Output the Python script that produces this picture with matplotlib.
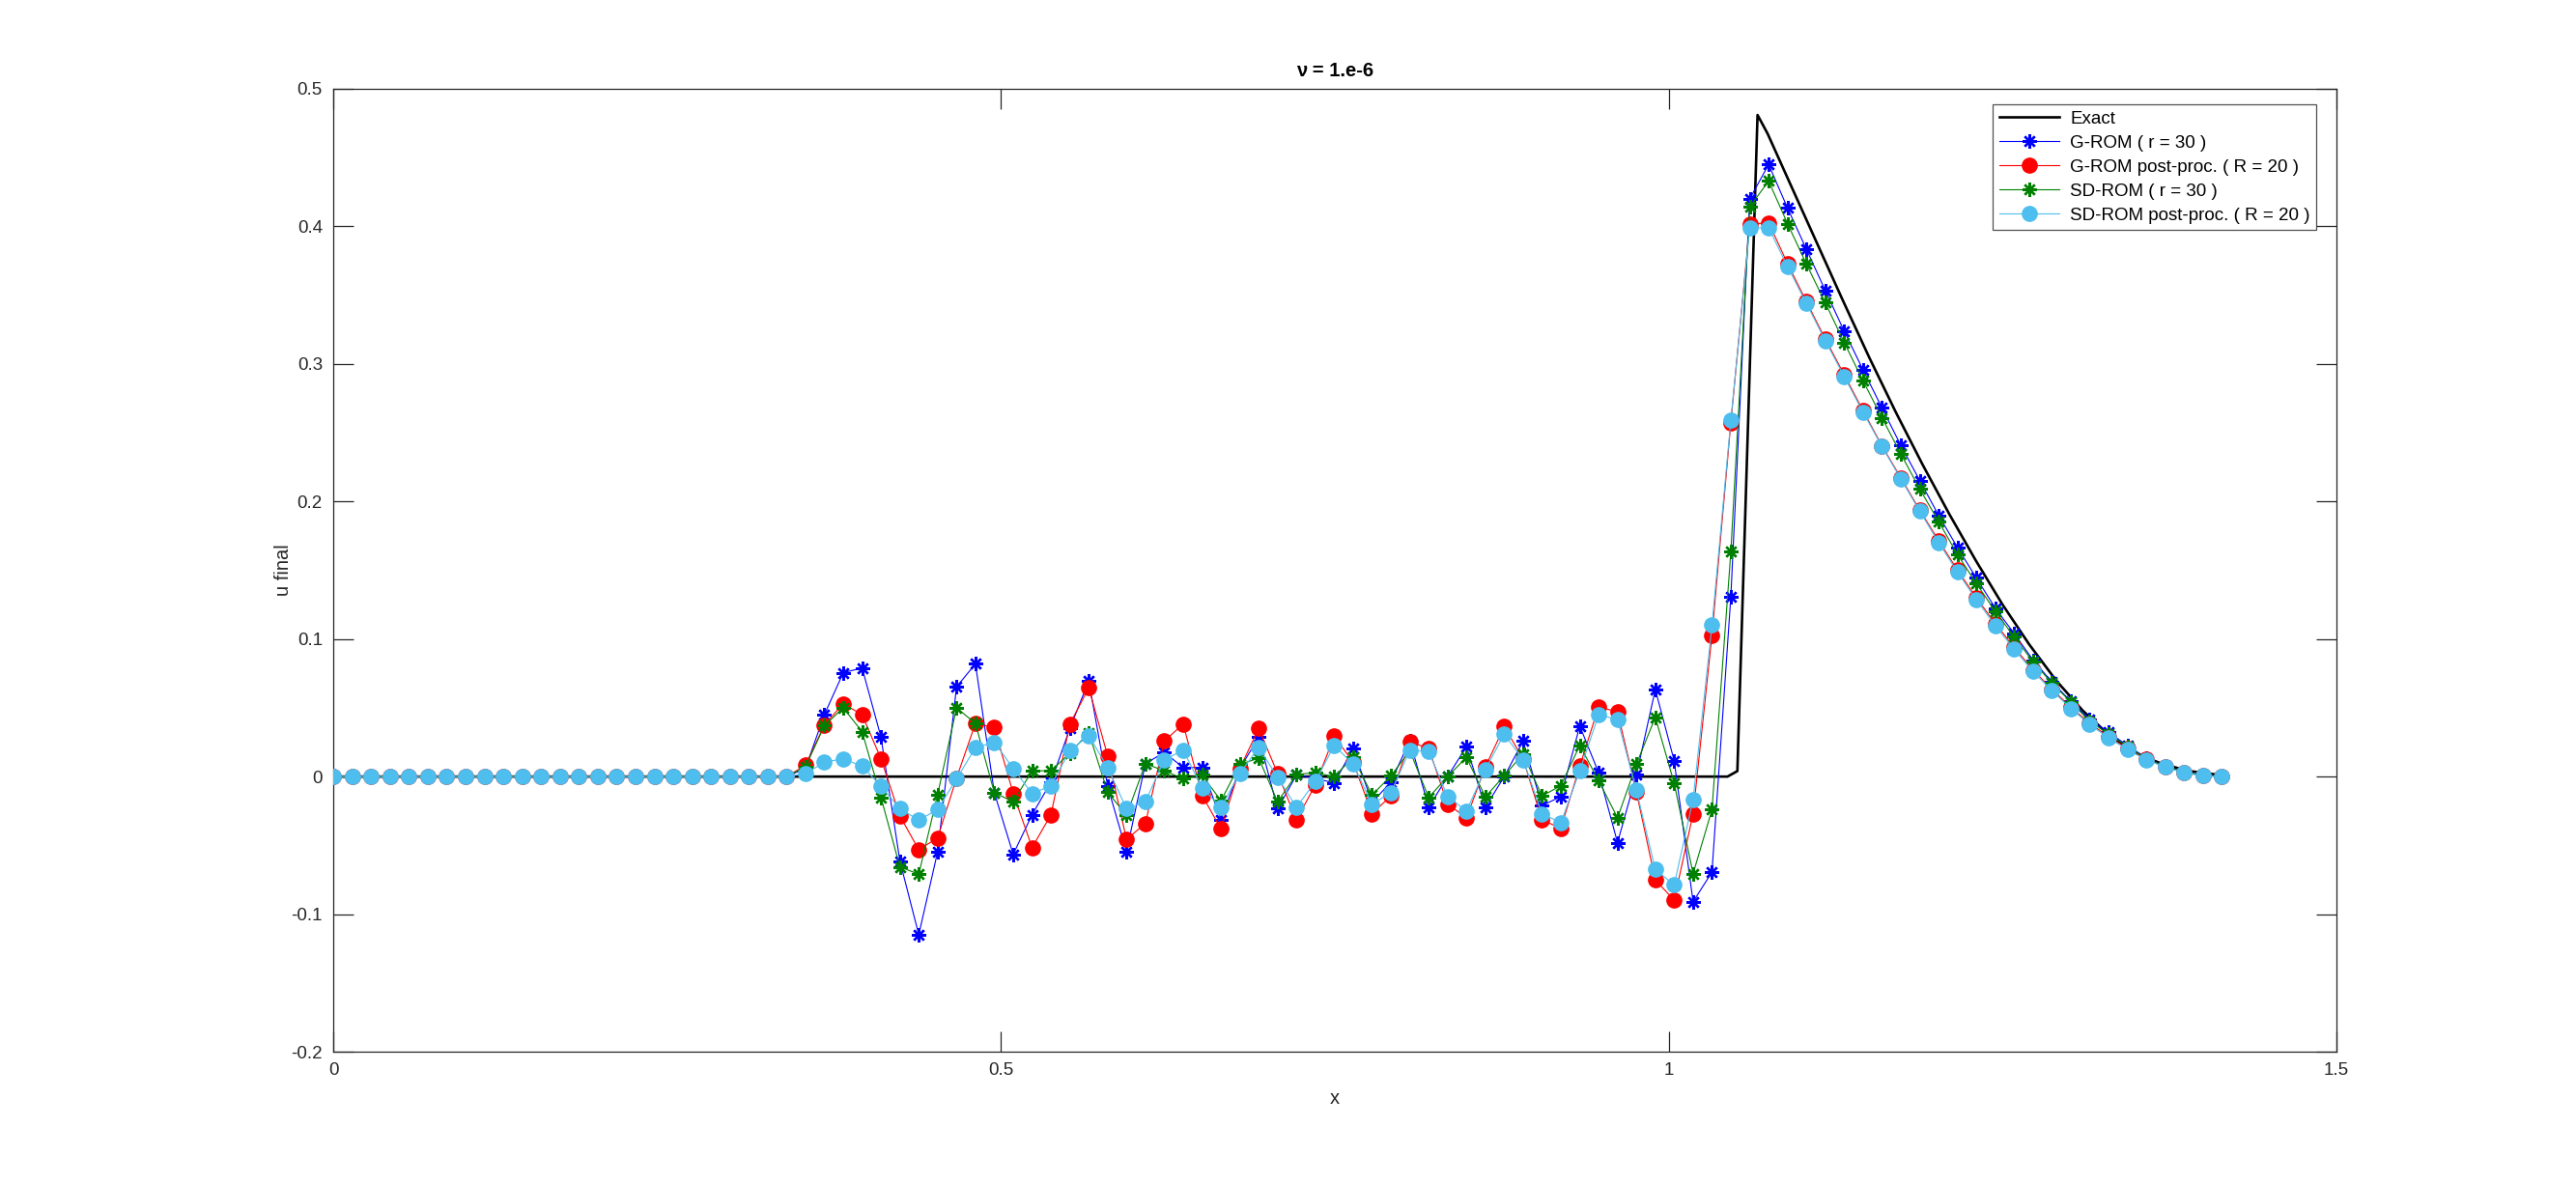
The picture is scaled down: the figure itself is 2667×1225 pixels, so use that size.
import numpy as np
import matplotlib
matplotlib.use("Agg")
import matplotlib.pyplot as plt

plt.rcParams['font.family'] = ['Liberation Sans', 'DejaVu Sans']
plt.rcParams['axes.unicode_minus'] = False

# ---------------- data ----------------
n_pts = 101
x_rom = np.linspace(0.0, np.sqrt(2.0), n_pts)

zeros25 = [0.0] * 25

g_rom = zeros25 + [
    0.006, 0.045, 0.0755, 0.079, 0.0286, -0.0614, -0.1149, -0.0546, 0.0652, 0.082,
    -0.0117, -0.0565, -0.0277, -0.004, 0.035, 0.0696, -0.007, -0.0544, 0.0094, 0.0176,
    0.0066, 0.0066, -0.0312, 0.0059, 0.0286, -0.0234, 0.0012, -0.0012, -0.0047, 0.0204,
    -0.0188, -0.004, 0.0263, -0.0223, 0.0, 0.0218, -0.0223, 0.0, 0.0258, -0.0211,
    -0.0145, 0.0368, 0.0028, -0.048, 0.0012, 0.0633, 0.0115, -0.091, -0.0694, 0.131,
    0.420, 0.445, 0.4134, 0.3834, 0.3534, 0.3239, 0.2957, 0.2681, 0.2408, 0.2153,
    0.190, 0.1665, 0.1444, 0.1225, 0.104, 0.0847, 0.0688, 0.0548, 0.0414, 0.0321,
    0.0227, 0.0135, 0.0075, 0.0032, 0.001, 0.0]

g_rom_pp = zeros25 + [
    0.0082, 0.0375, 0.053, 0.045, 0.0129, -0.0286, -0.0532, -0.0445, -0.001, 0.0387,
    0.0356, -0.0122, -0.0516, -0.0277, 0.0382, 0.0645, 0.0152, -0.0457, -0.034, 0.0258,
    0.0382, -0.0136, -0.038, 0.0059, 0.035, 0.0023, -0.0316, -0.0059, 0.0293, 0.0105,
    -0.027, -0.014, 0.0251, 0.0206, -0.020, -0.030, 0.007, 0.0363, 0.0129, -0.0316,
    -0.0375, 0.0075, 0.0509, 0.0469, -0.0113, -0.0752, -0.0898, -0.027, 0.1027, 0.2574,
    0.4016, 0.4027, 0.373, 0.3453, 0.3182, 0.2922, 0.266, 0.2405, 0.2172, 0.1938,
    0.1716, 0.1501, 0.130, 0.1113, 0.094, 0.0775, 0.0635, 0.0505, 0.0388, 0.029,
    0.0205, 0.0128, 0.0072, 0.003, 0.0008, 0.0]

sd_rom = zeros25 + [
    0.007, 0.037, 0.050, 0.0326, -0.0152, -0.0656, -0.071, -0.0129, 0.050, 0.0387,
    -0.0117, -0.0183, 0.0042, 0.0042, 0.017, 0.032, -0.0113, -0.0281, 0.0094, 0.0042,
    -0.0016, 0.0012, -0.0176, 0.0089, 0.0134, -0.0183, 0.0016, 0.0028, 0.0, 0.014,
    -0.0134, 0.0005, 0.0188, -0.0152, 0.0, 0.014, -0.0148, 0.0007, 0.0164, -0.0141,
    -0.0066, 0.0227, -0.003, -0.030, 0.0091, 0.0431, -0.0049, -0.0706, -0.0241, 0.1635,
    0.4142, 0.433, 0.402, 0.3727, 0.3445, 0.3156, 0.2877, 0.2609, 0.2346, 0.2091,
    0.1855, 0.1614, 0.1404, 0.1201, 0.1016, 0.0836, 0.0679, 0.0543, 0.0403, 0.0309,
    0.022, 0.013, 0.0073, 0.0031, 0.001, 0.0]

sd_rom_pp = zeros25 + [
    0.002, 0.0105, 0.013, 0.0075, -0.007, -0.0234, -0.0316, -0.0239, -0.0016, 0.021,
    0.025, 0.0059, -0.0124, -0.0066, 0.0188, 0.0298, 0.0066, -0.0234, -0.0183, 0.0122,
    0.0192, -0.0082, -0.0223, 0.0023, 0.0211, -0.0005, -0.0223, -0.0035, 0.0227, 0.0089,
    -0.020, -0.0117, 0.0192, 0.0183, -0.0145, -0.025, 0.0052, 0.0309, 0.0122, -0.027,
    -0.0335, 0.0042, 0.045, 0.0415, -0.010, -0.0675, -0.0788, -0.0166, 0.110, 0.2592,
    0.399, 0.399, 0.3708, 0.344, 0.3169, 0.2909, 0.2649, 0.240, 0.2164, 0.193,
    0.1702, 0.1487, 0.1285, 0.1098, 0.0925, 0.0765, 0.0625, 0.0496, 0.0379, 0.0281,
    0.0197, 0.0122, 0.0068, 0.0028, 0.0005, 0.0]

x_exact = [0.0, 1.044, 1.0514, 1.0665, 1.0740, 1.09, 1.11, 1.13, 1.15, 1.17,
           1.19, 1.21, 1.23, 1.25, 1.27, 1.29, 1.31, 1.33, 1.35, 1.37, 1.39, 1.4142]
u_exact = [0.0, 0.0, 0.004, 0.481, 0.4675, 0.433, 0.390, 0.347, 0.305, 0.265,
           0.227, 0.191, 0.157, 0.125, 0.096, 0.070, 0.048, 0.030, 0.017, 0.009, 0.004, 0.001]

labels = ["Exact", "G-ROM ( r = 30 )", "G-ROM post-proc. ( R = 20 )",
          "SD-ROM ( r = 30 )", "SD-ROM post-proc. ( R = 20 )"]
x_ticks = [0, 0.5, 1, 1.5]
x_tick_labels = ["0", "0.5", "1", "1.5"]
y_ticks = [-0.2, -0.1, 0, 0.1, 0.2, 0.3, 0.4, 0.5]
y_tick_labels = ["-0.2", "-0.1", "0", "0.1", "0.2", "0.3", "0.4", "0.5"]
title = "\u03bd = 1.e-6"

# ---------------- figure ----------------
fig = plt.figure(figsize=(26.67, 12.25), dpi=100)
ax = fig.add_axes([0.1294, 0.111, 0.7776, 0.8139])

asterisk = (8, 2, 0)
ax.plot(x_exact, u_exact, color='black', lw=1.9, label=labels[0], zorder=2)
ax.plot(x_rom, g_rom, color='blue', lw=0.8, marker=asterisk, ms=10.5,
        mew=1.7, mec='blue', label=labels[1], zorder=3)
ax.plot(x_rom, g_rom_pp, color='red', lw=0.8, marker='o', ms=11,
        mfc='red', mec='red', label=labels[2], zorder=4)
ax.plot(x_rom, sd_rom, color='#008000', lw=0.8, marker=asterisk, ms=10.5,
        mew=1.7, mec='#008000', label=labels[3], zorder=5)
ax.plot(x_rom, sd_rom_pp, color='#4DBEEE', lw=0.8, marker='o', ms=11,
        mfc='#4DBEEE', mec='#4DBEEE', label=labels[4], zorder=6)

ax.set_xlim(0, 1.5)
ax.set_ylim(-0.2, 0.5)
ax.set_xticks(x_ticks)
ax.set_xticklabels(x_tick_labels)
ax.set_yticks(y_ticks)
ax.set_yticklabels(y_tick_labels)

axcol = '#262626'
for s in ax.spines.values():
    s.set_color(axcol)
    s.set_linewidth(0.9)
ax.tick_params(direction='in', length=15, width=0.9, color=axcol,
               labelsize=13.5, labelcolor=axcol, top=True, right=True, pad=8)

ax.set_title(title, fontsize=14.5, fontweight='bold', color='black', pad=9)
ax.set_xlabel("x", fontsize=14.5, color=axcol, labelpad=8)
ax.set_ylabel("u final", fontsize=14.5, color=axcol, labelpad=-1)

leg = ax.legend(loc='upper right', bbox_to_anchor=(0.99, 0.984), fontsize=13.5,
                frameon=True, fancybox=False, borderpad=0.35, labelspacing=0.42,
                handlelength=3.3, handletextpad=0.6, borderaxespad=0.0)
leg.get_frame().set_edgecolor(axcol)
leg.get_frame().set_linewidth(0.9)

fig.savefig("out.png", dpi=100, facecolor='white')
